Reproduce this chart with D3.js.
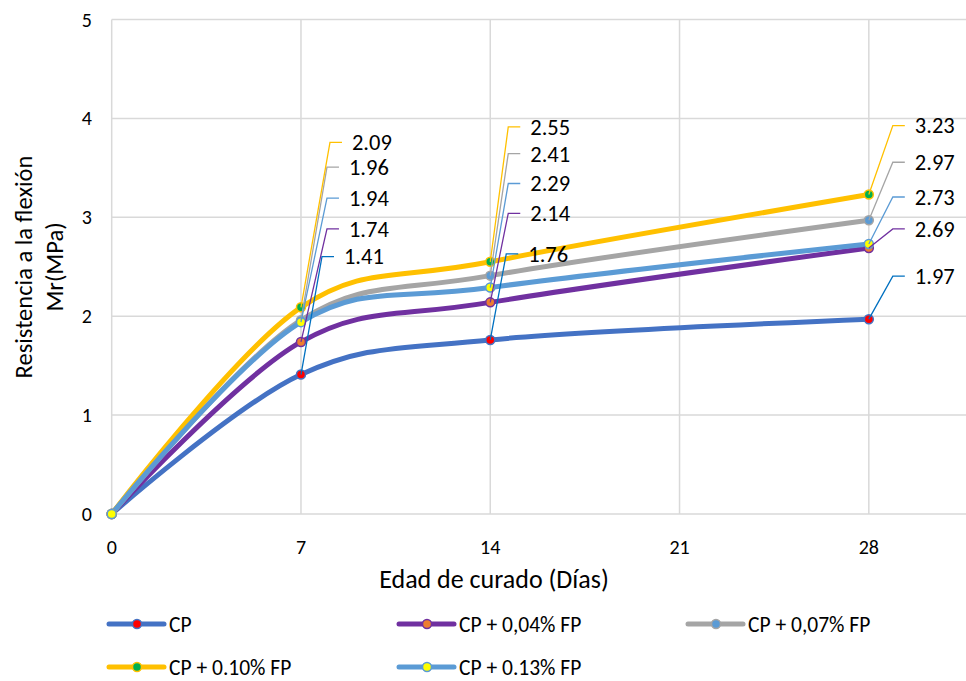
<!DOCTYPE html>
<html>
<head>
<meta charset="utf-8">
<script src="https://cdn.jsdelivr.net/npm/d3@7"></script>
<style>
  body { margin: 0; background: #fff; }
  svg text { font-family: Carlito, Calibri, Lato, sans-serif; fill: #000; }
</style>
</head>
<body>
<svg id="chart" width="966" height="681"></svg>
<script>
// values
const days = [0, 7, 14, 28];
const xTicks = [0, 7, 14, 21, 28, 35];
const yTicks = [0, 1, 2, 3, 4, 5];
const seriesNames = ["CP", "CP + 0,04% FP", "CP + 0,07% FP", "CP + 0.10% FP", "CP + 0.13% FP"];
const cp = [0, 1.41, 1.76, 1.97];
const fp004 = [0, 1.74, 2.14, 2.69];
const fp007 = [0, 1.96, 2.41, 2.97];
const fp010 = [0, 2.09, 2.55, 3.23];
const fp013 = [0, 1.94, 2.29, 2.73];

// styling
const lineColors = ["#4472C4", "#7030A0", "#A5A5A5", "#FFC000", "#5B9BD5"];
const markerFill = ["#FF0000", "#ED7D31", "#5B9BD5", "#00B050", "#FFFF00"];
const leaderColors = ["#0070C0", "#7030A0", "#A5A5A5", "#FFC000", "#5B9BD5"];
// label elbow offsets (px) from each point, for days 7, 14, 28
const labelOffsets = [
    [[21, -118], [16, -86], [24, -43]],
    [[26, -113], [18, -89], [24, -19]],
    [[26, -153], [18, -122], [24, -58]],
    [[29, -165], [18, -135], [24, -69]],
    [[26, -124], [18, -104], [24, -47]]
];
const legendPos = [[109, 624], [399, 624], [688, 624], [109, 667], [399, 667]];

const values = [cp, fp004, fp007, fp010, fp013];
const series = seriesNames.map((name, i) => ({
    name: name,
    idx: i,
    points: days.map((d, j) => ({ day: d, v: values[i][j] }))
}));

const svg = d3.select("#chart");
const x = d3.scaleLinear().domain([0, 35]).range([111.7, 111.7 + 35 * 27.04]);
const y = d3.scaleLinear().domain([0, 5]).range([514, 19.5]);

// gridlines
svg.append("g").selectAll("line.h")
    .data(yTicks).enter().append("line")
    .attr("x1", x(0)).attr("x2", 966)
    .attr("y1", d => y(d)).attr("y2", d => y(d))
    .attr("stroke", "#d9d9d9").attr("stroke-width", 1.5);
svg.append("g").selectAll("line.v")
    .data(xTicks).enter().append("line")
    .attr("x1", d => x(d)).attr("x2", d => x(d))
    .attr("y1", y(5)).attr("y2", y(0))
    .attr("stroke", "#d9d9d9").attr("stroke-width", 1.5);

// tick labels
svg.append("g").selectAll("text")
    .data(yTicks).enter().append("text")
    .attr("x", 92).attr("y", d => y(d))
    .attr("dy", "0.35em")
    .attr("text-anchor", "end")
    .attr("font-size", 20)
    .text(d => d);
svg.append("g").selectAll("text")
    .data(xTicks.filter(d => d <= 28)).enter().append("text")
    .attr("x", d => x(d)).attr("y", 547)
    .attr("dy", "0.35em")
    .attr("text-anchor", "middle")
    .attr("font-size", 20)
    .text(d => d);

// axis titles
svg.append("text")
    .attr("x", 494).attr("y", 579)
    .attr("dy", "0.35em")
    .attr("text-anchor", "middle")
    .attr("font-size", 26)
    .text("Edad de curado (Días)");
const yTitle = svg.append("text")
    .attr("transform", "translate(0,267) rotate(-90)")
    .attr("text-anchor", "middle")
    .attr("font-size", 24.5);
yTitle.append("tspan").attr("x", 0).attr("y", 32).text("Resistencia a la flexión");
yTitle.append("tspan").attr("x", 0).attr("y", 63).text("Mr(MPa)");

// lines
const line = d3.line()
    .x(d => x(d.day))
    .y(d => y(d.v))
    .curve(d3.curveCardinal.tension(0));

svg.append("g").selectAll("path")
    .data(series).enter().append("path")
    .attr("d", d => line(d.points))
    .attr("fill", "none")
    .attr("stroke", d => lineColors[d.idx])
    .attr("stroke-width", 5)
    .attr("stroke-linecap", "round");

// markers
series.forEach(s => {
    svg.append("g").selectAll("circle")
        .data(s.points).enter().append("circle")
        .attr("cx", d => x(d.day))
        .attr("cy", d => y(d.v))
        .attr("r", 4.5)
        .attr("fill", markerFill[s.idx])
        .attr("stroke", lineColors[s.idx])
        .attr("stroke-width", 1.5);
});

// data labels with leader lines
series.forEach(s => {
    const g = svg.append("g");
    s.points.slice(1).forEach((p, j) => {
        const px = x(p.day), py = y(p.v);
        const [dx, dy] = labelOffsets[s.idx][j];
        const ex = px + dx, ey = py + dy;
        g.append("path")
            .attr("d", "M" + px + "," + py + "L" + ex + "," + ey + "L" + (ex + 12) + "," + ey)
            .attr("fill", "none")
            .attr("stroke", leaderColors[s.idx])
            .attr("stroke-width", 1.3);
        g.append("text")
            .attr("x", ex + 22).attr("y", ey)
            .attr("dy", "0.35em")
            .attr("font-size", 22.5)
            .text(d3.format(".2f")(p.v));
    });
});

// legend
const legend = svg.append("g").selectAll("g")
    .data(series).enter().append("g")
    .attr("transform", d => "translate(" + legendPos[d.idx][0] + "," + legendPos[d.idx][1] + ")");
legend.append("line")
    .attr("x1", 0).attr("x2", 55)
    .attr("stroke", d => lineColors[d.idx])
    .attr("stroke-width", 5)
    .attr("stroke-linecap", "round");
legend.append("circle")
    .attr("cx", 28).attr("r", 4.5)
    .attr("fill", d => markerFill[d.idx])
    .attr("stroke", d => lineColors[d.idx])
    .attr("stroke-width", 1.5);
legend.append("text")
    .attr("x", 60).attr("dy", "0.35em")
    .attr("font-size", 21.5)
    .text(d => d.name);
</script>
</body>
</html>
